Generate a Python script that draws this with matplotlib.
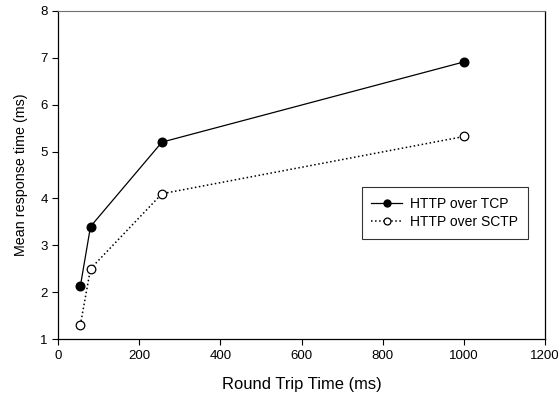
import matplotlib
matplotlib.use("Agg")
import matplotlib.pyplot as plt

plt.rcParams['font.family'] = ['Liberation Sans', 'DejaVu Sans']

# Round trip times (ms) and mean response times (ms)
rtt = [55, 80, 256, 1000]
tcp_time = [2.13, 3.4, 5.2, 6.91]
sctp_time = [1.3, 2.5, 4.1, 5.32]

fig = plt.figure(figsize=(5.58, 3.99), dpi=100)
ax = fig.add_axes([0.104, 0.150, 0.873, 0.823])

ax.plot(rtt, tcp_time, '-', color='black', lw=0.9, marker='o', ms=6.2,
        mfc='black', mec='black', label='HTTP over TCP')
ax.plot(rtt, sctp_time, ':', color='black', lw=1.1, marker='o', ms=6.2,
        mfc='white', mec='black', mew=0.9, label='HTTP over SCTP')

ax.set_xlim(0, 1200)
ax.set_ylim(1, 8)
ax.set_xticks(range(0, 1201, 200))
ax.set_yticks(range(1, 9))
ax.tick_params(direction='out', length=4, width=0.8, labelsize=9.5)
ax.spines['top'].set_color('#707070')
for s in ['left', 'bottom', 'right']:
    ax.spines[s].set_linewidth(0.9)

ax.set_xlabel('Round Trip Time (ms)', fontsize=11.9, labelpad=11)
ax.set_ylabel('Mean response time (ms)', fontsize=10.3, labelpad=9)

leg = ax.legend(loc='upper left', bbox_to_anchor=(0.623, 0.463),
                borderaxespad=0, fontsize=10, markerscale=0.8,
                frameon=True, fancybox=False, handlelength=2.2,
                handletextpad=0.6, borderpad=0.7, labelspacing=0.3)
leg.get_frame().set_edgecolor('black')
leg.get_frame().set_linewidth(0.8)

fig.savefig('out.png', dpi=100)
